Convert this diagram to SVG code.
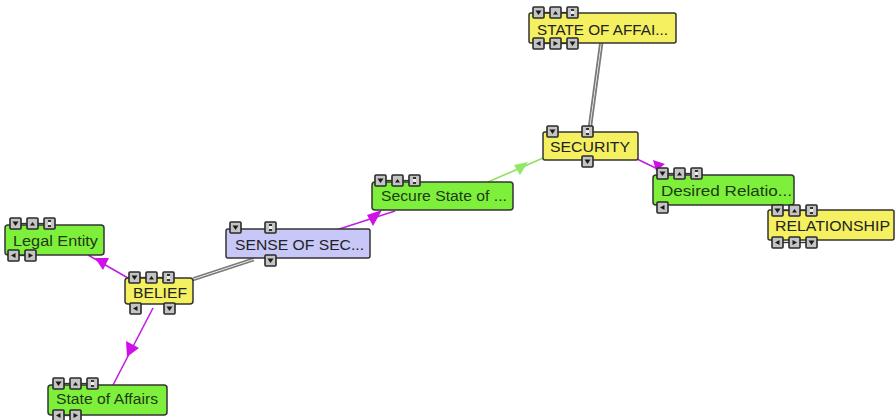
<svg xmlns="http://www.w3.org/2000/svg" xmlns:xlink="http://www.w3.org/1999/xlink" width="896" height="420" viewBox="0 0 896 420">
<style>
.box{stroke:#333;stroke-width:1.5}
.g{fill:#7ef03c}
.y{fill:#f4f060}
.l{fill:#c8c8f8}
.t{font-family:"Liberation Sans",Arial,sans-serif;font-size:15.5px;fill:#222}
.tg{fill:#1f3a14}
.ic{fill:#c4c4c4;stroke:#2a2a2a;stroke-width:1.6}
.gl{fill:#1a1a1a}
.lk{stroke:#333;stroke-width:1.3}
.mg{stroke:#c020e0;stroke-width:1.6;fill:none}
.gr{stroke:#7a7a7a;stroke-width:1.8;fill:none}
.grn{stroke:#90e060;stroke-width:1.6;fill:none}
.ma{fill:#d010e8}
.ga{fill:#90e868}
</style>
<defs>
<g id="dn"><rect class="ic" x="0" y="0" width="11" height="11" rx="1"/><polygon class="gl" points="2.5,3.5 8.5,3.5 5.5,8"/></g>
<g id="up"><rect class="ic" x="0" y="0" width="11" height="11" rx="1"/><polygon class="gl" points="5.5,4 8,7.5 3,7.5"/></g>
<g id="hh"><rect class="ic" x="0" y="0" width="11" height="11" rx="1"/><rect x="4" y="2" width="3" height="7" fill="#eee"/><rect x="4" y="2" width="3" height="2" fill="#333"/><rect x="4" y="7" width="3" height="2" fill="#333"/></g>
<g id="lf"><rect class="ic" x="0" y="0" width="11" height="11" rx="1"/><polygon class="gl" points="3,5.5 7.5,3 7.5,8"/></g>
<g id="rt"><rect class="ic" x="0" y="0" width="11" height="11" rx="1"/><polygon class="gl" points="8,5.5 3.5,3 3.5,8"/></g>
<g id="top3"><line class="lk" x1="11" y1="5.5" x2="17" y2="5.5"/><line class="lk" x1="28" y1="5.5" x2="34" y2="5.5"/><use xlink:href="#dn"/><use xlink:href="#up" x="17"/><use xlink:href="#hh" x="34"/></g>
<g id="bot2"><line class="lk" x1="11" y1="5.5" x2="17" y2="5.5"/><use xlink:href="#lf"/><use xlink:href="#rt" x="17"/></g>
<g id="bot3"><line class="lk" x1="11" y1="5.5" x2="17" y2="5.5"/><line class="lk" x1="28" y1="5.5" x2="34" y2="5.5"/><use xlink:href="#lf"/><use xlink:href="#rt" x="17"/><use xlink:href="#dn" x="34"/></g>
</defs>
<rect width="896" height="420" fill="#fff"/>
<g id="connectors">
<line class="mg" x1="128" y1="278" x2="88" y2="255"/>
<polygon class="ma" points="95,258 109,258 103,270"/>
<line class="mg" x1="153" y1="308" x2="113" y2="385"/>
<polygon class="ma" points="126,341 139,348 127,357"/>
<line class="gr" x1="193" y1="278" x2="254" y2="258"/>
<line class="gr" x1="193" y1="280.5" x2="254" y2="260.5"/>
<line class="mg" x1="330" y1="232" x2="395" y2="211"/>
<polygon class="ma" points="367,215 382,210 373,226"/>
<line class="grn" x1="488" y1="182" x2="543" y2="158"/>
<polygon class="ga" points="514,165 528,162 520,175"/>
<line class="gr" x1="600" y1="43" x2="588" y2="132"/>
<line class="gr" x1="602.5" y1="43" x2="590.5" y2="132"/>
<line class="mg" x1="637" y1="159" x2="666" y2="173"/>
<polygon class="ma" points="653,160 665,164 656,171"/>
</g>
<g id="legal-entity">
<rect class="box g" x="5" y="225" width="99" height="30" rx="3"/>
<text class="t tg" x="13" y="246" textLength="85" lengthAdjust="spacingAndGlyphs">Legal Entity</text>
<use xlink:href="#top3" x="10" y="218"/>
<use xlink:href="#bot2" x="8" y="250"/>
</g>
<g id="belief">
<rect class="box y" x="125" y="278" width="68" height="26" rx="3"/>
<text class="t" x="133" y="298" textLength="54" lengthAdjust="spacingAndGlyphs">BELIEF</text>
<use xlink:href="#top3" x="129" y="272"/>
<use xlink:href="#lf" x="130" y="303"/>
<use xlink:href="#dn" x="164" y="303"/>
</g>
<g id="state-of-affairs">
<rect class="box g" x="48" y="385" width="119" height="30" rx="3"/>
<text class="t tg" x="56" y="404" textLength="102" lengthAdjust="spacingAndGlyphs">State of Affairs</text>
<use xlink:href="#top3" x="53" y="378"/>
<use xlink:href="#bot2" x="53" y="410"/>
</g>
<g id="sense-of-sec">
<rect class="box l" x="226" y="229" width="144" height="29" rx="2"/>
<text class="t" x="235" y="250" textLength="129" lengthAdjust="spacingAndGlyphs">SENSE OF SEC...</text>
<use xlink:href="#dn" x="230" y="222"/>
<use xlink:href="#hh" x="265" y="222"/>
<use xlink:href="#dn" x="265" y="255"/>
</g>
<g id="secure-state">
<rect class="box g" x="372" y="182" width="141" height="28" rx="3"/>
<text class="t tg" x="381" y="201" textLength="126" lengthAdjust="spacingAndGlyphs">Secure State of ...</text>
<use xlink:href="#top3" x="375" y="175"/>
</g>
<g id="state-of-affai">
<rect class="box y" x="529" y="13" width="147" height="30" rx="2"/>
<text class="t" x="537" y="35" textLength="131" lengthAdjust="spacingAndGlyphs">STATE OF AFFAI...</text>
<use xlink:href="#top3" x="533" y="7"/>
<use xlink:href="#bot3" x="533" y="38"/>
</g>
<g id="security">
<rect class="box y" x="543" y="132" width="95" height="28" rx="2"/>
<text class="t" x="550" y="152" textLength="80" lengthAdjust="spacingAndGlyphs">SECURITY</text>
<use xlink:href="#dn" x="547" y="126"/>
<use xlink:href="#hh" x="582" y="126"/>
<use xlink:href="#dn" x="582" y="156"/>
</g>
<g id="desired-relatio">
<rect class="box g" x="653" y="175" width="141" height="30" rx="3"/>
<text class="t tg" x="661" y="196" textLength="131" lengthAdjust="spacingAndGlyphs">Desired Relatio...</text>
<use xlink:href="#top3" x="657" y="168"/>
<use xlink:href="#lf" x="657" y="202"/>
</g>
<g id="relationship">
<rect class="box y" x="768" y="210" width="126" height="30" rx="2"/>
<text class="t" x="775" y="231" textLength="115" lengthAdjust="spacingAndGlyphs">RELATIONSHIP</text>
<use xlink:href="#top3" x="772" y="205"/>
<use xlink:href="#bot3" x="772" y="237"/>
</g>
</svg>
